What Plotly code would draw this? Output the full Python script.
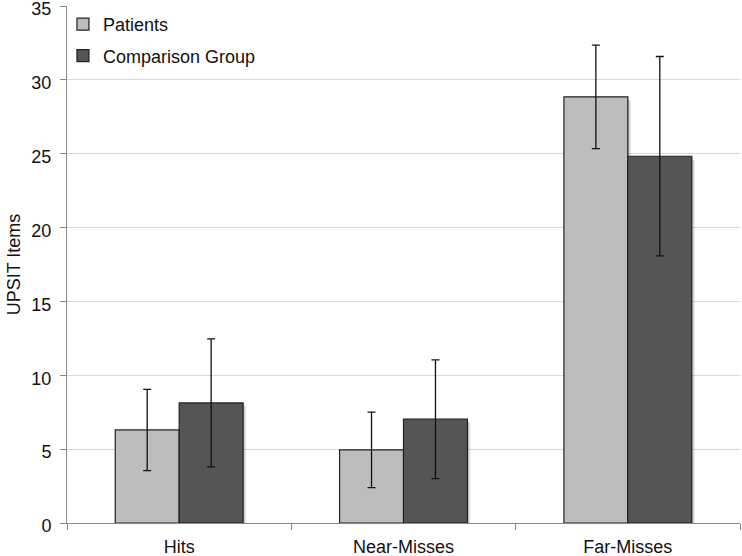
import plotly.graph_objects as go

categories = ["Hits", "Near-Misses", "Far-Misses"]
patients = [6.3, 4.95, 28.85]
patients_err = [2.75, 2.55, 3.5]
comparison = [8.13, 7.03, 24.83]
comparison_err = [4.33, 4.02, 6.75]

BAR_W = 0.285       # bar width in category units
SH_DX = 0.014       # shadow shift (category units)
SH_DY = 0.25        # shadow drop (data units)

fig = go.Figure()
# soft drop shadows
for vals, off in ((patients, -BAR_W), (comparison, 0.0)):
    for k, a in ((1.0, 0.10), (0.5, 0.14)):
        fig.add_trace(go.Bar(
            x=categories, y=[v - SH_DY * k for v in vals],
            width=BAR_W, offset=off + SH_DX * k,
            marker=dict(color=f"rgba(0,0,0,{a})", line=dict(width=0)),
            showlegend=False, hoverinfo="skip",
        ))

fig.add_trace(go.Bar(
    name="Patients", x=categories, y=patients, legendgroup="a",
    width=BAR_W, offset=-BAR_W,
    marker=dict(color="#BDBDBD", line=dict(color="#222222", width=1.2)),
    error_y=dict(type="data", array=patients_err, color="#111111", thickness=1.3, width=4),
))
fig.add_trace(go.Bar(
    name="Comparison Group", x=categories, y=comparison, legendgroup="b",
    width=BAR_W, offset=0.0,
    marker=dict(color="#555555", line=dict(color="#222222", width=1.2)),
    error_y=dict(type="data", array=comparison_err, color="#111111", thickness=1.3, width=4),
))

fig.update_layout(
    width=742, height=556,
    margin=dict(l=67, r=2, t=6, b=33, autoexpand=False),
    paper_bgcolor="white", plot_bgcolor="white",
    barmode="overlay",
    font=dict(family="Liberation Sans, Arial, sans-serif", size=18, color="#111111"),
    legend=dict(x=-0.006, y=1.0, xanchor="left", yanchor="top",
                font=dict(size=18), bgcolor="rgba(0,0,0,0)",
                tracegroupgap=5, itemwidth=30),
    showlegend=True,
)
fig.update_yaxes(
    range=[0, 35], dtick=5, showgrid=True, gridcolor="#D9D9D9", gridwidth=1,
    showline=True, linecolor="#888888", linewidth=1,
    ticks="outside", ticklen=6, tickcolor="#888888",
    ticklabeloverflow="allow", automargin=False, ticklabelshift=3,
    ticklabelstandoff=5,
    title=dict(text="UPSIT Items", font=dict(size=18), standoff=6),
    zeroline=False,
)
fig.update_xaxes(
    showline=True, linecolor="#888888", linewidth=1,
    ticks="outside", ticklen=6, tickcolor="#888888", tickson="boundaries",
    tickfont=dict(size=18), automargin=False, ticklabelstandoff=7,
)

fig.write_html("out.html", config={"displayModeBar": False},
               post_script="document.body.style.margin='0px';")
